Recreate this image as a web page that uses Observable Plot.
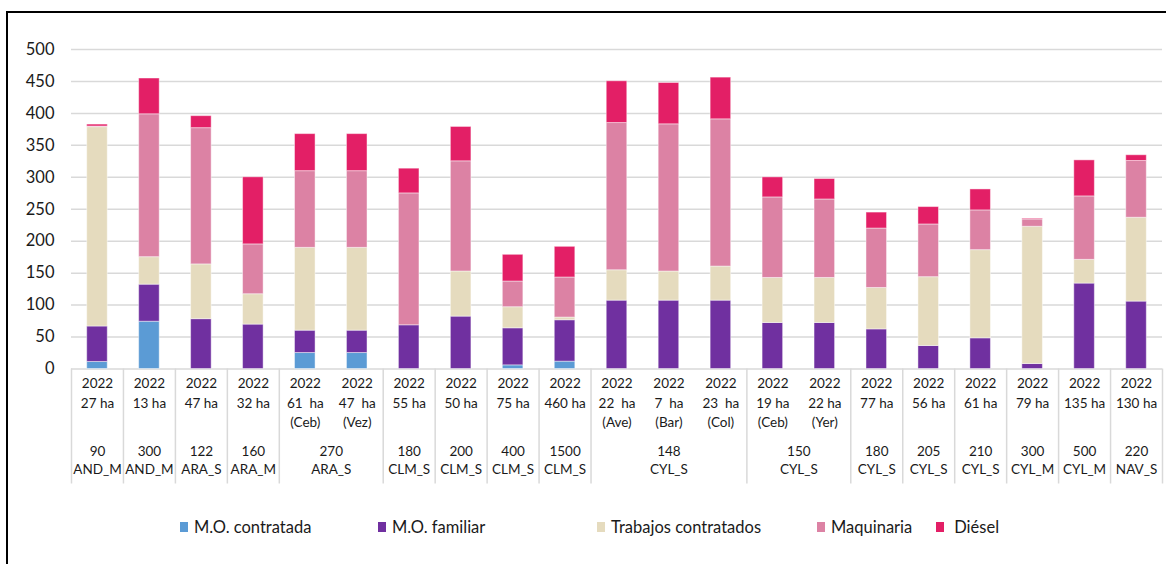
<!DOCTYPE html>
<html>
<head>
<meta charset="utf-8">
<script src="https://cdn.jsdelivr.net/npm/d3@7"></script>
<script src="https://cdn.jsdelivr.net/npm/@observablehq/plot@0.6"></script>
<style>
  html, body { margin: 0; padding: 0; background: #fff; overflow: hidden; width: 1166px; height: 564px; }
  #frame { position: absolute; left: 6px; top: 11px; width: 1200px; height: 600px; border: 2px solid #000; box-sizing: border-box; }
  #chart { position: absolute; left: 0; top: 0; }
  .leg { position: absolute; top: 517px; font-family: Lato, "Open Sans", sans-serif; font-size: 16.5px; color: #1a1a1a; white-space: pre; line-height: 20px; }
  .leg i { position: absolute; left: 0; top: 5px; width: 8px; height: 10px; }
  .leg span { position: absolute; left: 14px; top: 0; }
</style>
</head>
<body>
<div id="frame"></div>
<div id="chart"></div>
<div id="legend"></div>
<script>
// ---- data ----
const series = ["M.O. contratada", "M.O. familiar", "Trabajos contratados", "Maquinaria", "Diésel"];
const colors = ["#5B9BD5", "#7030A0", "#E5DBBE", "#DC82A4", "#E31F66"];

const years = ["2022","2022","2022","2022","2022","2022","2022","2022","2022","2022","2022",
               "2022","2022","2022","2022","2022","2022","2022","2022","2022","2022"];
const hectares = ["27 ha","13 ha","47 ha","32 ha","61\u00a0 ha","47\u00a0 ha","55 ha","50 ha","75 ha","460 ha",
                  "22\u00a0 ha","7\u00a0 ha","23\u00a0 ha","19 ha","22 ha","77 ha","56 ha","61 ha","79 ha","135 ha","130 ha"];
const places = ["","","","","(Ceb)","(Vez)","","","","","(Ave)","(Bar)","(Col)","(Ceb)","(Yer)","","","","","",""];

const groupSizes   = ["90","300","122","160","270","180","200","400","1500","148","150","180","205","210","300","500","220"];
const groupRegions = ["AND_M","AND_M","ARA_S","ARA_M","ARA_S","CLM_S","CLM_S","CLM_S","CLM_S","CYL_S","CYL_S","CYL_S","CYL_S","CYL_S","CYL_M","CYL_M","NAV_S"];
const groupCounts  = [1,1,1,1,2,1,1,1,1,3,2,1,1,1,1,1,1];

const moContratada = [11, 74, 0, 0, 25, 25, 0, 0, 5.7, 11.5, 0, 0, 0, 0, 0, 0, 0, 0, 0, 0, 0];
const moFamiliar   = [55.5, 58, 78, 69.5, 35, 35, 68.4, 82, 58, 64.8, 107, 107, 107, 72, 72, 62, 36, 48, 7.8, 133.7, 105.5];
const trabajos     = [312, 43, 85.7, 47.5, 129.6, 129.6, 0, 70.6, 33, 4.2, 47.5, 45.5, 53.3, 70.5, 70.5, 64.8, 107.7, 138, 214.8, 37.1, 131.2];
const maquinaria   = [1, 223.6, 213.2, 78, 120, 120, 206.4, 172.4, 40.2, 62.7, 230.4, 230.4, 230.4, 126, 122.8, 93, 82.5, 62.2, 11.4, 99.3, 88.8];
const diesel       = [3, 56, 18.8, 105, 58, 58, 38.7, 53.8, 41.8, 48, 65.4, 64.7, 65.3, 31.4, 32, 25, 27.2, 32.8, 1.1, 56.4, 9];

const yTicks = [0, 50, 100, 150, 200, 250, 300, 350, 400, 450, 500];

// ---- derived tables ----
const valuesBySeries = [moContratada, moFamiliar, trabajos, maquinaria, diesel];
const idx = years.map((_, i) => i);
const long = [];
idx.forEach(i => series.forEach((s, k) => long.push({i, series: s, value: valuesBySeries[k][i]})));

const groups = [];
let start = 0;
groupCounts.forEach((n, g) => {
  groups.push({start, end: start + n, size: groupSizes[g], region: groupRegions[g]});
  start += n;
});
const boundaries = [0, ...groups.map(g => g.end)];

const font = 'Lato, "Open Sans", sans-serif';
const txt = "#1a1a1a";
const fs = 13.5;

const chart = Plot.plot({
  width: 1166,
  height: 490,
  marginLeft: 71,
  marginRight: 4,
  marginTop: 49,
  marginBottom: 121.5,
  style: {fontFamily: font, background: "transparent", color: txt},
  x: {type: "linear", domain: [0, idx.length], axis: null},
  y: {domain: [0, 500], axis: null},
  color: {domain: series, range: colors},
  marks: [
    Plot.gridY(yTicks, {stroke: "#d9d9d9", strokeOpacity: 1, strokeWidth: 1.5}),
    Plot.axisY(yTicks, {tickSize: 0, tickPadding: 17, fontSize: 16.5, fill: txt, label: null}),
    Plot.axisX({ticks: boundaries, tickSize: 115, tickFormat: () => "", stroke: "#d9d9d9", strokeOpacity: 1, strokeWidth: 1.5, label: null}),
    Plot.rectY(long, Plot.stackY({
      x1: "i", x2: d => d.i + 1, y: "value", fill: "series",
      insetLeft: 15.7, insetRight: 15.7,
      stroke: "#fff", strokeOpacity: 0.45, strokeWidth: 1
    })),
    Plot.text(idx, {x: i => i + 0.5, text: i => years[i], frameAnchor: "bottom", dy: 18.5, fontSize: fs, fill: txt}),
    Plot.text(idx, {x: i => i + 0.5, text: i => hectares[i], frameAnchor: "bottom", dy: 38.5, fontSize: fs, fill: txt}),
    Plot.text(idx, {x: i => i + 0.5, text: i => places[i], frameAnchor: "bottom", dy: 57.5, fontSize: fs, fill: txt}),
    Plot.text(groups, {x: g => (g.start + g.end) / 2, text: "size", frameAnchor: "bottom", dy: 86.5, fontSize: fs, fill: txt}),
    Plot.text(groups, {x: g => (g.start + g.end) / 2, text: "region", frameAnchor: "bottom", dy: 104.5, fontSize: fs, fill: txt})
  ]
});
document.getElementById("chart").appendChild(chart);

// ---- legend ----
const legendLeft = [180, 378, 597, 817, 936];
const legend = document.getElementById("legend");
series.forEach((s, k) => {
  const d = document.createElement("div");
  d.className = "leg";
  d.style.left = legendLeft[k] + "px";
  const sw = document.createElement("i");
  sw.style.background = colors[k];
  const t = document.createElement("span");
  t.textContent = (k === 4 ? " " : "") + s;
  d.appendChild(sw); d.appendChild(t);
  legend.appendChild(d);
});
</script>
</body>
</html>
